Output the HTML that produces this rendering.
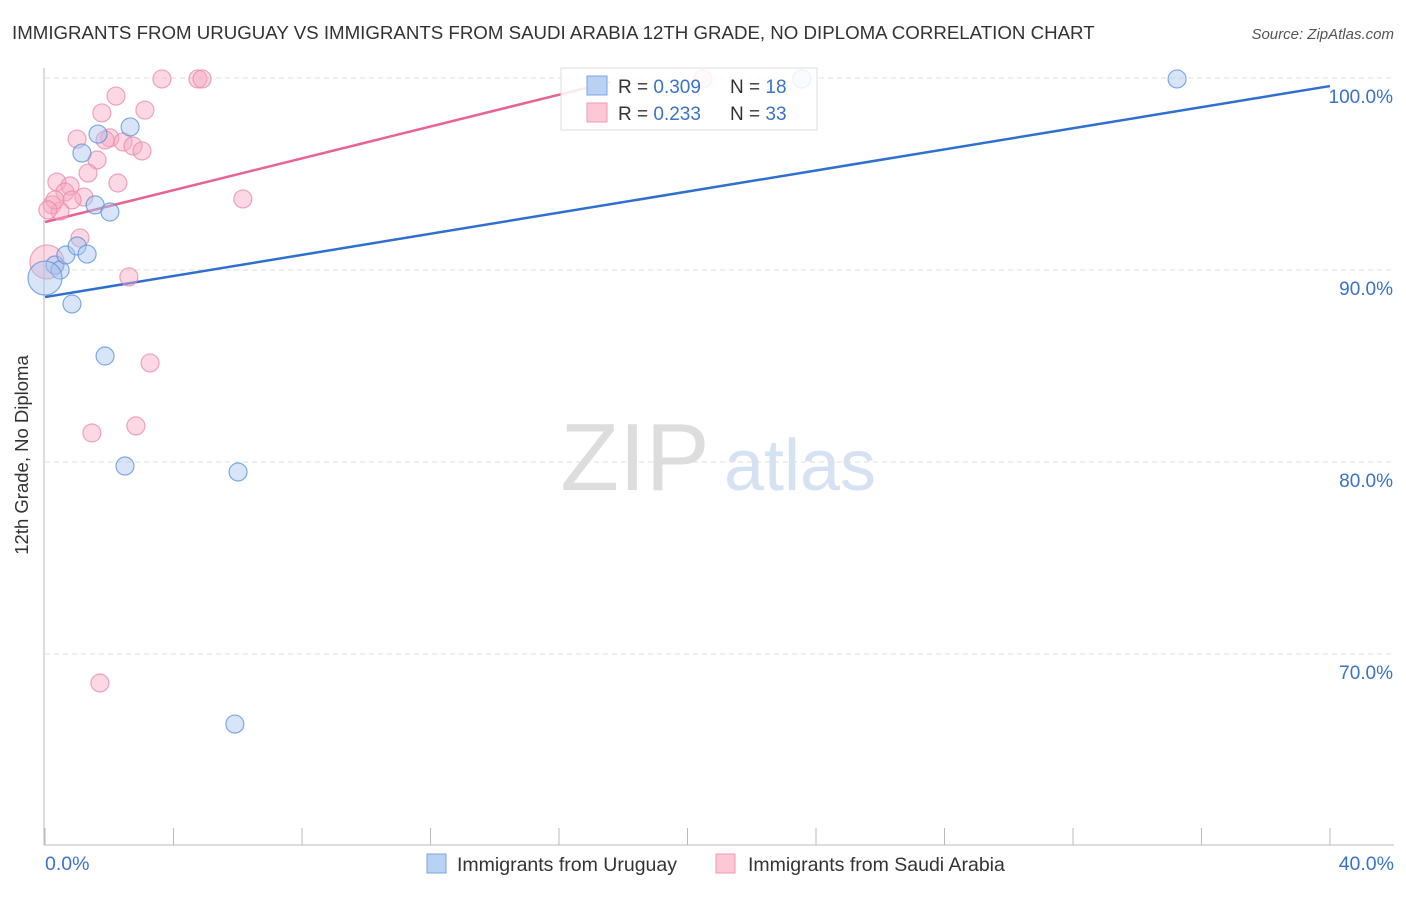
<!DOCTYPE html>
<html><head><meta charset="utf-8"><style>
body{margin:0;background:#fff;font-family:"Liberation Sans",sans-serif}
svg text{font-family:"Liberation Sans",sans-serif}
</style></head><body>
<svg width="1406" height="892" xmlns="http://www.w3.org/2000/svg">
<text x="12" y="39" font-size="18.7" fill="#333">IMMIGRANTS FROM URUGUAY VS IMMIGRANTS FROM SAUDI ARABIA 12TH GRADE, NO DIPLOMA CORRELATION CHART</text>
<text x="1394" y="39" font-size="15" fill="#555" font-style="italic" text-anchor="end">Source: ZipAtlas.com</text>
<g>
<text x="635" y="490" font-size="96" fill="#ddd" font-family="Liberation Serif,serif" text-anchor="middle">ZIP</text>
<text x="800" y="490" font-size="72" fill="#d5e2f4" text-anchor="middle">atlas</text>
</g>
<g id="grid"></g>
<line x1="44" y1="68" x2="44" y2="845" stroke="#bbb"/>
<line x1="44" y1="845" x2="1394" y2="845" stroke="#bbb"/>
<g id="ticks"></g>
<g id="lines"></g>
<g id="pts"></g>
<text x="28" y="455" font-size="18.5" fill="#333" text-anchor="middle" transform="rotate(-90 28 455)">12th Grade, No Diploma</text>
<text x="45" y="870" font-size="19.5" fill="#3a72c8">0.0%</text>
<text x="1394" y="870" font-size="19.5" fill="#3a72c8" text-anchor="end">40.0%</text>
<g>
<rect x="561" y="68" width="256" height="62" fill="#fff" fill-opacity="0.85" stroke="#ddd"/>
<rect x="587" y="76" width="20" height="19" fill="#b9d2f4" stroke="#7aa4e0"/>
<rect x="587" y="103" width="20" height="19" fill="#fcc8d6" stroke="#ef9ab4"/>
<text x="618" y="93" font-size="19" fill="#333">R = <tspan fill="#3a72c8">0.309</tspan></text>
<text x="730" y="93" font-size="19" fill="#333">N = <tspan fill="#3a72c8">18</tspan></text>
<text x="618" y="120" font-size="19" fill="#333">R = <tspan fill="#3a72c8"> 0.233</tspan></text>
<text x="730" y="120" font-size="19" fill="#333">N = <tspan fill="#3a72c8">33</tspan></text>
</g>
<g>
<rect x="427" y="854" width="19" height="19" fill="#b9d2f4" stroke="#7aa4e0"/>
<text x="457" y="871" font-size="19.5" fill="#333">Immigrants from Uruguay</text>
<rect x="716" y="854" width="19" height="19" fill="#fcc8d6" stroke="#ef9ab4"/>
<text x="748" y="871" font-size="19.5" fill="#333">Immigrants from Saudi Arabia</text>
</g>
</svg>
<script>
const yTicks=[100,90,80,70];
const yTickLabels=["100.0%","90.0%","80.0%","70.0%"];
const xTicks=[0,4,8,12,16,20,24,28,32,36,40];
const blueX=[0.31,0.47,0.0,0.84,1.65,1.15,2.65,1.56,2.02,0.65,1.0,1.31,1.87,2.49,6.01,5.91,23.56,35.24];
const blueY=[90.26,90.0,89.58,88.23,97.08,96.09,97.45,93.39,93.02,90.78,91.25,90.83,85.52,79.79,79.48,66.35,99.95,99.95];
const blueBig=[2];
const pinkX=[3.64,4.76,4.89,20.48,2.21,3.11,1.77,1.0,2.02,2.43,2.74,3.02,1.62,1.34,2.27,0.37,0.78,0.62,1.21,0.84,0.22,0.47,6.16,1.09,0.06,2.61,3.27,2.83,1.46,1.71,0.31,1.87,0.09];
const pinkY=[99.95,99.95,99.95,99.95,99.06,98.33,98.18,96.82,96.88,96.67,96.46,96.2,95.73,95.05,94.53,94.58,94.38,94.06,93.8,93.65,93.39,93.07,93.7,91.67,90.42,89.64,85.16,81.88,81.51,68.49,93.65,96.77,93.13];
const pinkBig=[24];
const blueTrend=[88.59,99.58];
const pinkTrend=[92.5,99.79];
const pinkTrendEnd=17.59;
const NS="http://www.w3.org/2000/svg";
const xs=v=>45+v/40*1285;
const ys=v=>78+(100-v)*19.2;
function mk(t,a,p){const e=document.createElementNS(NS,t);for(const k in a)e.setAttribute(k,a[k]);p.appendChild(e);return e;}
const grid=document.getElementById('grid');
yTicks.forEach((v,i)=>{
 const l=mk('line',{x1:45,x2:1394,y1:ys(v),y2:ys(v),stroke:'#ddd','stroke-dasharray':'5,4'},grid);
 
 
 const t=mk('text',{x:1393,y:ys(v)+25,'font-size':19,fill:'#3a72c8','text-anchor':'end'},grid);
 t.textContent=yTickLabels[i];
 
 
});
const tk=document.getElementById('ticks');
xTicks.forEach(v=>{
 const l=mk('line',{x1:xs(v),x2:xs(v),y1:828,y2:845,stroke:'#bbb'},tk);
 
 
});
const pts=document.getElementById('pts');
function dots(X,Y,big,fill,stroke,name){
 X.forEach((x,i)=>{
  const c=mk('circle',{cx:xs(x),cy:ys(Y[i]),r:big.includes(i)?17:9,fill:fill,'fill-opacity':0.45,stroke:stroke,'stroke-opacity':0.75,'stroke-width':1.2},pts);
  
  
 });
}
dots(pinkX,pinkY,pinkBig,'#f7a8c0','#e88aa8','point-saudi');
dots(blueX,blueY,blueBig,'#a8c6f0','#5a8fd8','point-uruguay');
const ln=document.getElementById('lines');
const b=mk('line',{x1:xs(0),y1:ys(blueTrend[0]),x2:xs(40),y2:ys(blueTrend[1]),stroke:'#2f6fd0','stroke-width':2.5},ln);


const p=mk('line',{x1:xs(0),y1:ys(pinkTrend[0]),x2:xs(pinkTrendEnd),y2:ys(pinkTrend[1]),stroke:'#e8648e','stroke-width':2.5},ln);


</script>
</body></html>
